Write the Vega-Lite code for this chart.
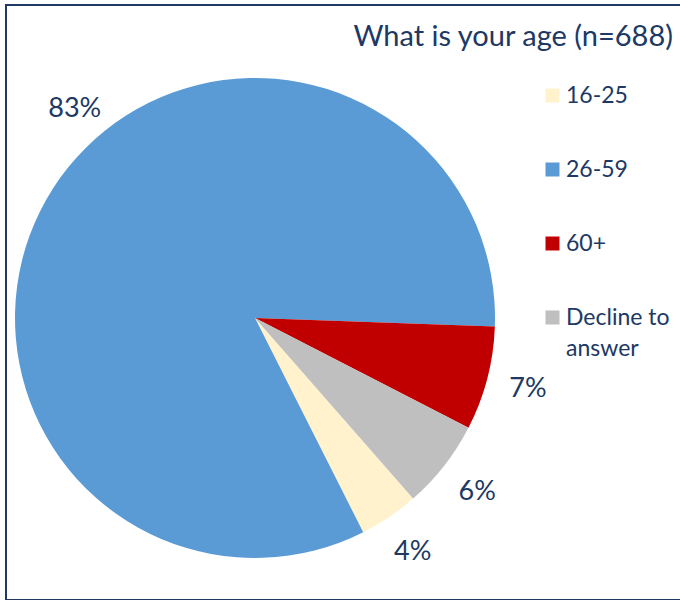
{
  "$schema": "https://vega.github.io/schema/vega-lite/v6.json",
  "width": 676,
  "height": 595,
  "autosize": "none",
  "padding": {"left": 6, "top": 5, "right": 0, "bottom": 0},
  "background": "white",
  "config": {"view": {"stroke": null}, "font": "Lato", "style": {"guide-label": {"lineHeight": 31}}},
  "title": {"text": "What is your age (n=688)", "anchor": "end", "frame": "group", "orient": "top", "baseline": "alphabetic", "offset": 0, "dy": 71, "dx": -9, "fontSize": 29, "fontWeight": "normal", "color": "#203864", "font": "Lato"},
  "layer": [
    {
      "data": {"values": [{"frame": "border"}]},
      "mark": {"type": "rect", "fill": null, "stroke": "#203864", "strokeWidth": 2},
      "encoding": {"x": {"value": 0}, "x2": {"value": "width"}, "y": {"value": 0}, "y2": {"value": "height"}}
    },
    {
      "data": {"name": "ages"},
      "mark": {"type": "arc", "outerRadius": 240, "x": 249, "y": 313},
      "encoding": {
        "theta": {"field": "share", "type": "quantitative", "stack": true, "scale": {"range": [2.4225, 8.7057]}},
        "order": {"field": "age", "sort": "ascending"},
        "color": {"field": "age", "type": "nominal",
          "scale": {"domain": ["16-25", "26-59", "60+", "Decline to answer"], "range": ["#FFF2CC", "#5B9BD5", "#C00000", "#BFBFBF"]},
          "legend": {"orient": "none", "legendX": 535, "legendY": 79, "title": null, "symbolType": "square", "symbolSize": 196, "symbolStrokeWidth": 0, "labelFontSize": 23, "labelColor": "#203864", "labelFont": "Lato", "rowPadding": 50, "padding": 0, "labelOffset": 2, "labelLimit": 200,
            "labelExpr": "datum.label == 'Decline to answer' ? ['Decline to', 'answer'] : datum.label"}
        }
      }
    },
    {
      "data": {"name": "ages"},
      "mark": {"type": "text", "radius": 282, "x": 249, "y": 313, "fontSize": 27, "font": "Lato", "color": "#203864"},
      "encoding": {
        "theta": {"field": "share", "type": "quantitative", "stack": true},
        "order": {"field": "age", "sort": "ascending"},
        "detail": {"field": "age", "type": "nominal"},
        "text": {"condition": {"test": "datum.age == '26-59'", "value": ""}, "field": "share", "type": "quantitative", "format": ".0%"}
      }
    },
    {
      "data": {"name": "ages"},
      "mark": {"type": "text", "radius": 276, "thetaOffset": 0.29, "x": 249, "y": 313, "fontSize": 27, "font": "Lato", "color": "#203864"},
      "encoding": {
        "theta": {"field": "share", "type": "quantitative", "stack": true},
        "order": {"field": "age", "sort": "ascending"},
        "detail": {"field": "age", "type": "nominal"},
        "text": {"condition": {"test": "datum.age != '26-59'", "value": ""}, "field": "share", "type": "quantitative", "format": ".0%"}
      }
    }
  ],
  "datasets": {"ages": [
    {"age": "16-25", "share": 0.04},
    {"age": "26-59", "share": 0.83},
    {"age": "60+", "share": 0.07},
    {"age": "Decline to answer", "share": 0.06}
  ]}
}
